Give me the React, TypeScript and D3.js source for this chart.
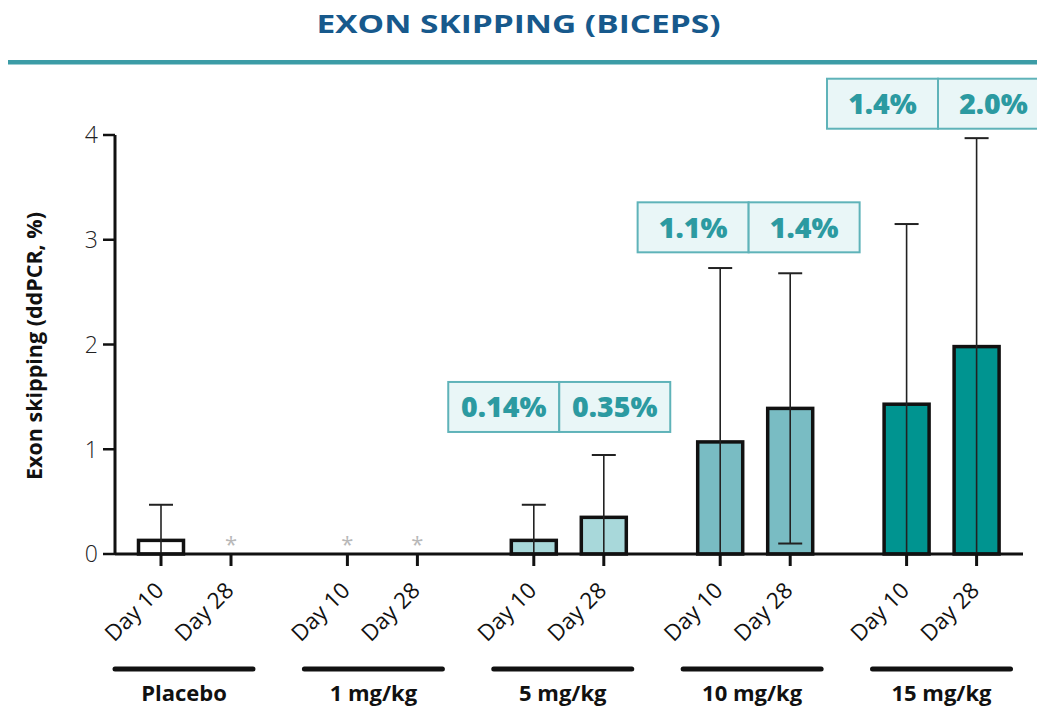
import React from "react";
import * as d3 from "d3";

const groups = ["Placebo", "1 mg/kg", "5 mg/kg", "10 mg/kg", "15 mg/kg"];
const days = ["Day 10", "Day 28"];
// mean values (%) per group, [Day 10, Day 28]; null = not measured (asterisk)
const means: (number | null)[][] = [
  [0.13, null],
  [null, null],
  [0.13, 0.35],
  [1.07, 1.39],
  [1.43, 1.98],
];
const sds: (number | null)[][] = [
  [0.34, null],
  [null, null],
  [0.34, 0.595],
  [1.66, 1.29],
  [1.72, 1.99],
];
const annotations: (string[] | null)[] = [
  null,
  null,
  ["0.14%", "0.35%"],
  ["1.1%", "1.4%"],
  ["1.4%", "2.0%"],
];
const annotationLevels: (number | null)[] = [null, null, 1.165, 2.88, 4.06];
const barColors = ["#ffffff", "#ffffff", "#a8d8da", "#79bcc3", "#009490"];
const yTicks = [0, 1, 2, 3, 4];

const W = 1037;
const H = 706;
const FONT = "'Open Sans', 'Noto Sans', sans-serif";

export default function App() {
  const y = d3.scaleLinear().domain([0, 4]).range([554, 135]);
  const gx = d3.scaleBand<string>().domain(groups).range([102.8, 1034.8]);
  const dx = d3.scalePoint<string>().domain(days).range([-35, 35]);
  const lx = d3.scalePoint<string>().domain(groups).range([184, 941.5]);
  const xc = (gi: number, di: number) =>
    (gx(groups[gi]) as number) + gx.bandwidth() / 2 + (dx(days[di]) as number);
  const barW = 45;
  const capW = 24;
  const boxW = 222;
  const boxH = 50;
  const axisX = 115;

  return (
    <svg
      width={W}
      height={H}
      style={{ position: "absolute", left: 0, top: 0, background: "#fff" }}
      fontFamily={FONT}
    >
      <text
        x={W / 2}
        y={33}
        textAnchor="middle"
        fontSize={25}
        fontWeight={700}
        fill="#17598c"
        textLength={404}
        lengthAdjust="spacingAndGlyphs"
      >
        EXON SKIPPING (BICEPS)
      </text>
      <rect x={8} y={60} width={W - 8} height={4.5} fill="#3c9ca6" />

      {/* y axis */}
      <line x1={axisX} x2={axisX} y1={y(4)} y2={y(0)} stroke="#111" strokeWidth={3} />
      {yTicks.map((t) => (
        <g key={t}>
          <line x1={axisX - 12} x2={axisX} y1={y(t)} y2={y(t)} stroke="#111" strokeWidth={2.5} />
          <text
            x={axisX - 17}
            y={y(t)}
            dy="0.36em"
            textAnchor="end"
            fontSize={23}
            fontWeight={300}
            fill="#222"
          >
            {t}
          </text>
        </g>
      ))}
      <text
        transform={`translate(42, 346) rotate(-90)`}
        textAnchor="middle"
        fontSize={21.5}
        fontWeight={700}
        fill="#111"
      >
        Exon skipping (ddPCR, %)
      </text>

      {/* bars */}
      {means.map((row, gi) =>
        row.map((m, di) => {
          const cx = xc(gi, di);
          if (m === null) {
            return (
              <text
                key={`a${gi}${di}`}
                x={cx}
                y={y(0) - 2}
                textAnchor="middle"
                fontSize={22}
                fill="#b8b8b8"
              >
                *
              </text>
            );
          }
          const sd = sds[gi][di] as number;
          const hi = m + sd;
          const lo = Math.max(0, m - sd);
          return (
            <g key={`b${gi}${di}`}>
              <rect
                x={cx - barW / 2}
                y={y(m)}
                width={barW}
                height={y(0) - y(m)}
                fill={barColors[gi]}
                stroke="#111"
                strokeWidth={3.5}
              />
              <line x1={cx} x2={cx} y1={y(hi)} y2={y(lo)} stroke="#222" strokeWidth={1.6} />
              <line x1={cx - capW / 2} x2={cx + capW / 2} y1={y(hi)} y2={y(hi)} stroke="#222" strokeWidth={2} />
              {lo > 0 && (
                <line x1={cx - capW / 2} x2={cx + capW / 2} y1={y(lo)} y2={y(lo)} stroke="#222" strokeWidth={2} />
              )}
            </g>
          );
        })
      )}

      {/* x baseline */}
      <line x1={axisX} x2={1023} y1={y(0)} y2={y(0)} stroke="#111" strokeWidth={3} />

      {/* x ticks and labels */}
      {groups.map((g, gi) =>
        days.map((d, di) => {
          const cx = xc(gi, di);
          return (
            <g key={`t${gi}${di}`}>
              <line x1={cx} x2={cx} y1={y(0)} y2={y(0) + 12} stroke="#111" strokeWidth={3} />
              <text
                transform={`translate(${cx + 4}, 592) rotate(-45)`}
                textAnchor="end"
                fontSize={22.5}
                fill="#111"
              >
                {d}
              </text>
            </g>
          );
        })
      )}

      {/* group lines and labels */}
      {groups.map((g) => {
        const c = lx(g) as number;
        return (
          <g key={`g${g}`}>
            <line
              x1={c - 69}
              x2={c + 69}
              y1={669}
              y2={669}
              stroke="#111"
              strokeWidth={5}
              strokeLinecap="round"
            />
            <text x={c} y={701} textAnchor="middle" fontSize={22} fontWeight={700} fill="#111">
              {g}
            </text>
          </g>
        );
      })}

      {/* annotation boxes */}
      {annotations.map((a, gi) => {
        if (!a) return null;
        const c = (lx(groups[gi]) as number) - 3.5;
        const top = y(annotationLevels[gi] as number) - boxH;
        return (
          <g key={`box${gi}`}>
            {a.map((s, i) => (
              <g key={i}>
                <rect
                  x={c - boxW / 2 + (i * boxW) / 2}
                  y={top}
                  width={boxW / 2}
                  height={boxH}
                  fill="#e9f6f7"
                  stroke="#5fb3b9"
                  strokeWidth={2}
                />
                <text
                  x={c - boxW / 2 + (i * boxW) / 2 + boxW / 4}
                  y={top + boxH / 2}
                  dy="0.36em"
                  textAnchor="middle"
                  fontSize={28.5}
                  fontWeight={800}
                  fill="#2c9aa1"
                >
                  {s}
                </text>
              </g>
            ))}
          </g>
        );
      })}
    </svg>
  );
}
